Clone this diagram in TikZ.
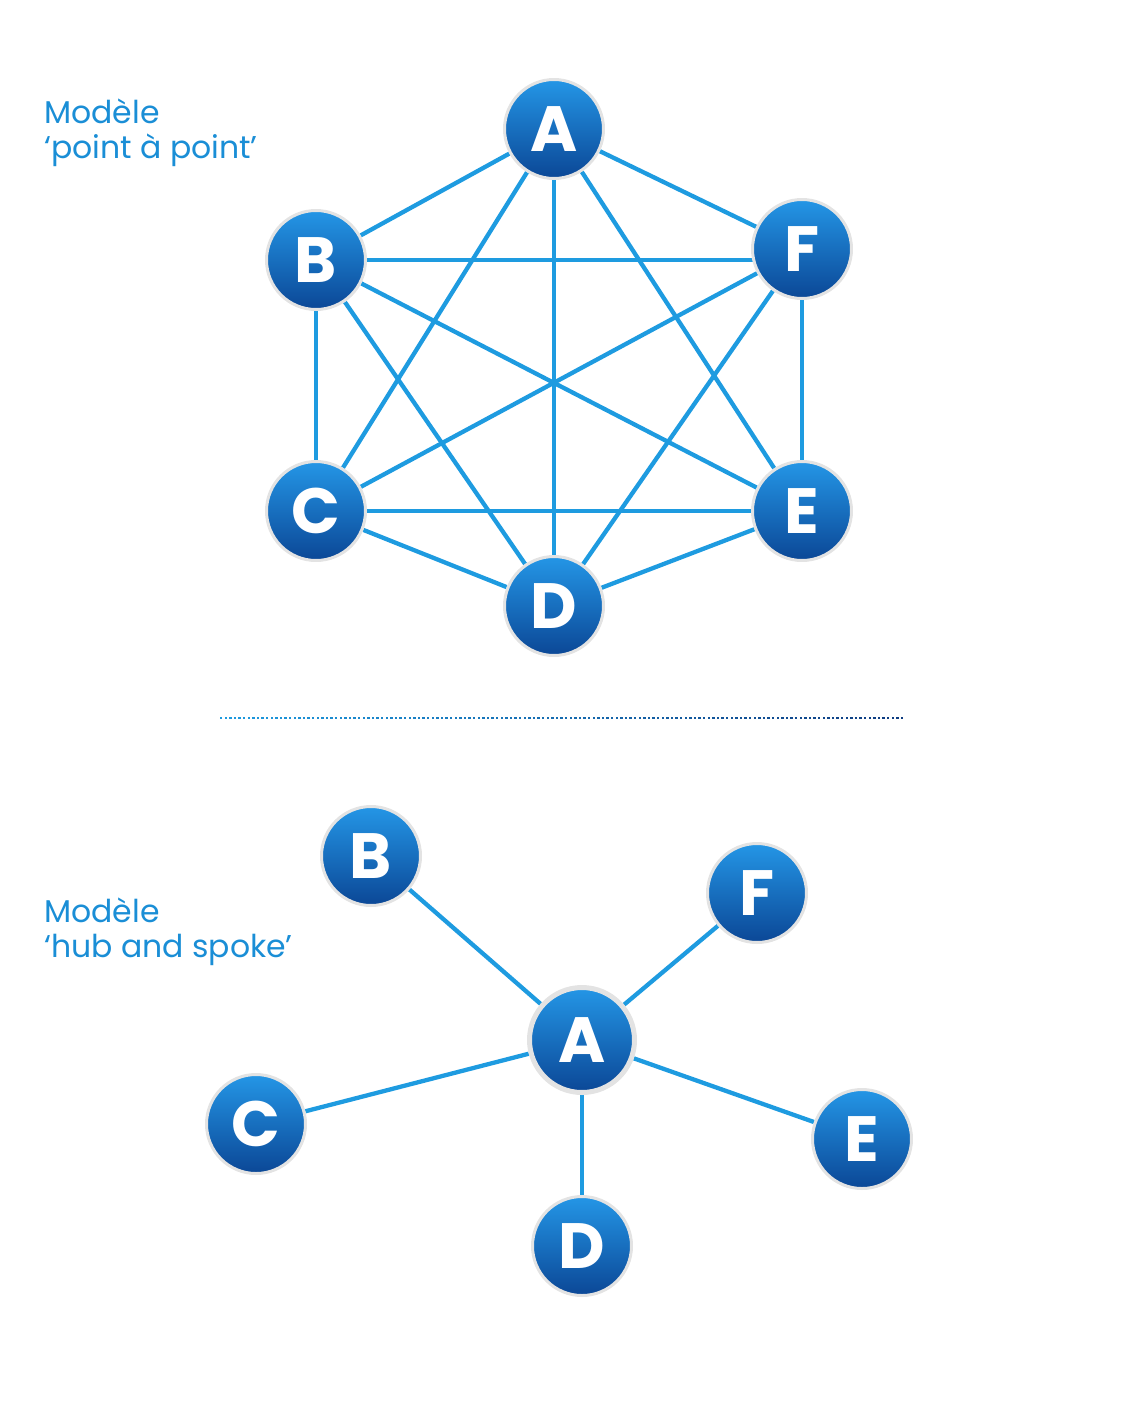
\documentclass[tikz,border=0pt]{standalone}
\usepackage{fontspec}
\setmainfont{Poppins}
\usetikzlibrary{backgrounds}
\definecolor{linkblue}{HTML}{1E9BE0}
\definecolor{titleblue}{HTML}{1A8ED6}
\definecolor{balltop}{HTML}{2496E6}
\definecolor{ballbot}{HTML}{0B4796}
\definecolor{dotdark}{HTML}{0D3B80}
\tikzset{
  site/.style={shape=circle, minimum size=99pt, inner sep=0pt,
    top color=balltop, bottom color=ballbot, draw=gray!22, line width=3pt,
    text=white, font=\fontsize{64}{64}\selectfont\bfseries},
  hub/.style={site, minimum size=105pt, line width=5pt},
  link/.style={-, line width=4.3pt, draw=linkblue},
  caption/.style={anchor=north west, align=left, text=titleblue, inner sep=0pt,
    font=\fontsize{31.5}{35}\selectfont}
}
\begin{document}
\begin{tikzpicture}[x=1pt,y=-1pt]
\useasboundingbox (0,0) rectangle (1120,1417);
% point a point
\node[caption] (T1) at (44,99) {Modèle\\‘point à point’};
\node[site] (A) at (554,129) {A};
\node[site] (B) at (316,260) {B};
\node[site] (F) at (802,249) {F};
\node[site] (C) at (316,511) {C};
\node[site] (E) at (802,511) {E};
\node[site] (D) at (554,606) {D};
\begin{scope}[on background layer]
\path [link] (A) edge (B) edge (C) edge (D) edge (E) edge (F);
\path [link] (B) edge (C) edge (D) edge (E);
\draw [link] (B.center) -- (B.center -| F.center);
\path [link] (C) edge (D) edge (E) edge (F);
\path [link] (D) edge (E) edge (F);
\path [link] (E) edge (F);
\end{scope}
% separator
\foreach \i in {0,...,148}
  \pgfmathsetmacro{\pct}{100-\i*100/148}
  \fill[linkblue!\pct!dotdark] (220+\i*4.6,716.5) rectangle ++(2.4,2.4);
% hub and spoke
\node[caption] (T2) at (44,898) {Modèle\\‘hub and spoke’};
\node[hub] (hA) at (582,1040) {A};
\node[site] (hB) at (371,856) {B};
\node[site] (hF) at (757,893) {F};
\node[site] (hC) at (256,1124) {C};
\node[site] (hE) at (862,1139) {E};
\node[site] (hD) at (582,1246) {D};
\begin{scope}[on background layer]
\path [link] (hA) edge (hB) edge (hC) edge (hD) edge (hE) edge (hF);
\end{scope}
\end{tikzpicture}
\end{document}
